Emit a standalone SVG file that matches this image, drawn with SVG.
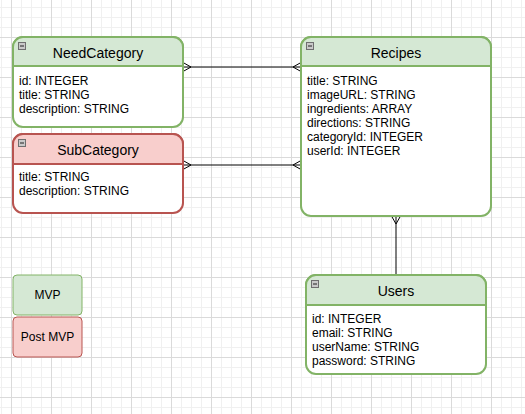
<svg xmlns="http://www.w3.org/2000/svg" width="525" height="414" viewBox="0 0 525 414">
<defs>
<pattern id="grid" x="11" y="37" width="40" height="40" patternUnits="userSpaceOnUse">
<path d="M10.5,0V40M20.5,0V40M30.5,0V40M0,10.5H40M0,20.5H40M0,30.5H40" stroke="#f0f0f0" stroke-width="1" fill="none"/>
<path d="M0.5,0V40M0,0.5H40" stroke="#dadada" stroke-width="1" fill="none"/>
</pattern>
<marker id="many" markerUnits="userSpaceOnUse" markerWidth="10" markerHeight="10" viewBox="-10 -5 10 10" refX="0" refY="0" orient="auto-start-reverse" overflow="visible">
<path d="M0,-4.5L-8,0L0,4.5" fill="none" stroke="#000" stroke-width="1"/>
</marker>
</defs>
<style>
.t{font-family:"Liberation Sans",Arial,sans-serif;font-size:14px;fill:#000;text-anchor:middle}
.a{font-family:"Liberation Sans",Arial,sans-serif;font-size:12px;fill:#000}
.l{font-family:"Liberation Sans",Arial,sans-serif;font-size:12px;fill:#000;text-anchor:middle}
.body{fill:#fff;stroke-width:2}
.g .body,.g .hd{stroke:#82b366}
.r .body,.r .hd{stroke:#b85450}
.g .hd{fill:#d5e8d4}
.r .hd{fill:#f8cecc}
.hd{stroke-width:2}
.sep{stroke-width:2}
.g .sep{stroke:#82b366}
.r .sep{stroke:#b85450}
.ic{fill:#c9c9c9;stroke:#6f6f6f;stroke-width:1}
.icm{stroke:#222;stroke-width:1}
.edge{stroke:#000;stroke-width:1;fill:none}
</style>
<rect width="525" height="414" fill="#fff"/>
<rect width="525" height="414" fill="url(#grid)"/>

<g id="connectors">
<path class="edge" d="M183,67H301" marker-start="url(#many)" marker-end="url(#many)"/>
<path class="edge" d="M183,165H301" marker-start="url(#many)" marker-end="url(#many)"/>
<path class="edge" d="M396,216V275" marker-start="url(#many)"/>
</g>

<g id="needcategory" class="g" transform="translate(13,37)">
<rect class="body" x="0" y="0" width="170" height="90" rx="10"/>
<path class="hd" d="M0,29V10A10,10 0 0 1 10,0H160A10,10 0 0 1 170,10V29Z"/>
<rect class="ic" x="5.5" y="5.5" width="7" height="7"/><path class="icm" d="M7,9H11"/>
<text class="t" x="85" y="21">NeedCategory</text>
<text class="a" x="6" y="48">id: INTEGER</text>
<text class="a" x="6" y="62">title: STRING</text>
<text class="a" x="6" y="76">description: STRING</text>
</g>

<g id="subcategory" class="r" transform="translate(13,134)">
<rect class="body" x="0" y="0" width="170" height="79" rx="10"/>
<path class="hd" d="M0,30V10A10,10 0 0 1 10,0H160A10,10 0 0 1 170,10V30Z"/>
<rect class="ic" x="5.5" y="5.5" width="7" height="7"/><path class="icm" d="M7,9H11"/>
<text class="t" x="85" y="21">SubCategory</text>
<text class="a" x="6" y="47">title: STRING</text>
<text class="a" x="6" y="61">description: STRING</text>
</g>

<g id="recipes" class="g" transform="translate(301,37)">
<rect class="body" x="0" y="0" width="190" height="179" rx="10"/>
<path class="hd" d="M0,29V10A10,10 0 0 1 10,0H180A10,10 0 0 1 190,10V29Z"/>
<rect class="ic" x="5.5" y="5.5" width="7" height="7"/><path class="icm" d="M7,9H11"/>
<text class="t" x="95" y="21">Recipes</text>
<text class="a" x="6" y="48">title: STRING</text>
<text class="a" x="6" y="62">imageURL: STRING</text>
<text class="a" x="6" y="76">ingredients: ARRAY</text>
<text class="a" x="6" y="90">directions: STRING</text>
<text class="a" x="6" y="104">categoryId: INTEGER</text>
<text class="a" x="6" y="118">userId: INTEGER</text>
</g>

<g id="users" class="g" transform="translate(306,275)">
<rect class="body" x="0" y="0" width="180" height="99" rx="10"/>
<path class="hd" d="M0,30V10A10,10 0 0 1 10,0H170A10,10 0 0 1 180,10V30Z"/>
<rect class="ic" x="5.5" y="5.5" width="7" height="7"/><path class="icm" d="M7,9H11"/>
<text class="t" x="90" y="21">Users</text>
<text class="a" x="6" y="48">id: INTEGER</text>
<text class="a" x="6" y="62">email: STRING</text>
<text class="a" x="6" y="76">userName: STRING</text>
<text class="a" x="6" y="90">password: STRING</text>
</g>

<g id="mvp">
<rect x="13" y="275" width="69" height="40" rx="4" fill="#d5e8d4" stroke="#82b366" stroke-width="1"/>
<text class="l" x="47.5" y="299">MVP</text>
</g>
<g id="postmvp">
<rect x="13" y="317" width="69" height="40" rx="4" fill="#f8cecc" stroke="#b85450" stroke-width="1"/>
<text class="l" x="47.5" y="341">Post MVP</text>
</g>
</svg>
